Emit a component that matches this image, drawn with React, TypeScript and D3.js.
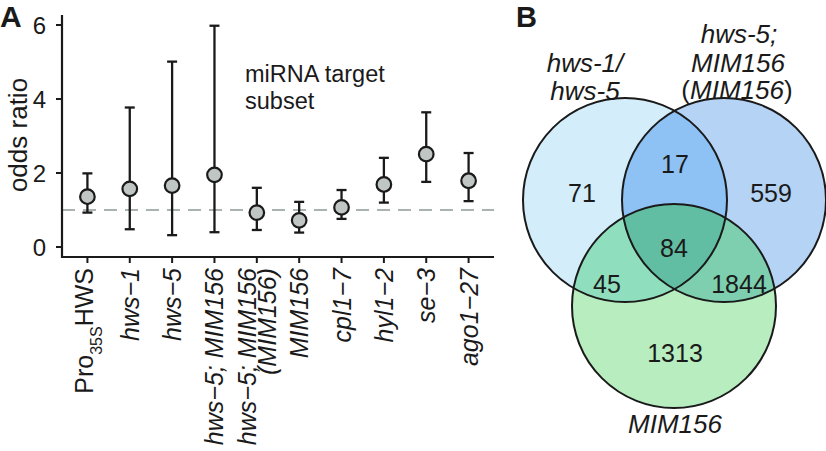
import React from "react";
import * as d3 from "d3";

// ---------- Panel A data ----------
const categories = [
  "Pro35SHWS",
  "hws−1",
  "hws−5",
  "hws−5; MIM156",
  "hws−5; MIM156\n(MIM156)",
  "MIM156",
  "cpl1−7",
  "hyl1−2",
  "se−3",
  "ago1−27",
];
const oddsRatio = [1.36, 1.57, 1.66, 1.95, 0.93, 0.72, 1.07, 1.69, 2.51, 1.79];
const ciLower = [0.93, 0.48, 0.32, 0.4, 0.46, 0.39, 0.76, 1.2, 1.76, 1.24];
const ciUpper = [1.99, 3.77, 5.01, 5.98, 1.6, 1.22, 1.54, 2.41, 3.64, 2.54];
const yTicks = [0, 2, 4, 6];
const referenceLine = 1;

// ---------- Panel B data ----------
const vennSetNames = ["hws-1/hws-5", "hws-5; MIM156 (MIM156)", "MIM156"];
const regionKeys = ["A", "AB", "B", "ABC", "AC", "BC", "C"];
const regionCounts = [71, 17, 559, 84, 45, 1844, 1313];

const FONT = "'Liberation Sans', Arial, Helvetica, sans-serif";

// layout
const W = 826;
const H = 451;
const plotLeft = 62;
const plotRight = 494;
const plotTop = 15;
const plotBottom = 257;

const circleLayout = [
  { cx: 625, cy: 200, r: 102, fill: "#d3edfb" },
  { cx: 724, cy: 200, r: 102, fill: "#b5d3f4" },
  { cx: 674, cy: 306, r: 102, fill: "#b7edbf" },
];
const regionFill: Record<string, string> = {
  AB: "#8ec1f4",
  AC: "#8fdfbf",
  BC: "#7dcfb0",
  ABC: "#62bea2",
};
const regionLabelPos: Record<string, [number, number]> = {
  A: [582, 202],
  AB: [675, 173],
  B: [771, 202],
  ABC: [674, 257],
  AC: [607, 293],
  BC: [739, 293],
  C: [675, 362],
};

function XLabel({ text, x, y }: { text: string; x: number; y: number }) {
  const fs = 25;
  if (text.startsWith("Pro35S")) {
    return (
      <text
        transform={`translate(${x + 6},${y}) rotate(-90)`}
        textAnchor="end"
        fontSize={fs}
        fontFamily={FONT}
        fill="#1a1a1a"
      >
        Pro
        <tspan fontSize={16} dy={9}>
          35S
        </tspan>
        <tspan dy={-9}>HWS</tspan>
      </text>
    );
  }
  const lines = text.split("\n");
  const spacing = 20;
  const n = lines.length;
  return (
    <g>
      {lines.map((ln, i) => {
        const off = 9 + (i - (n - 1) / 2) * spacing;
        return (
          <text
            key={i}
            transform={`translate(${x + off},${y}) rotate(-90)`}
            textAnchor="end"
            fontSize={fs}
            fontStyle="italic"
            fontFamily={FONT}
            fill="#1a1a1a"
          >
            {ln}
          </text>
        );
      })}
    </g>
  );
}

export default function App() {
  const x = d3
    .scalePoint<string>()
    .domain(categories)
    .range([plotLeft, plotRight])
    .padding(0.6);
  const y = d3.scaleLinear().domain([-0.27, 6.27]).range([plotBottom, plotTop]);

  const points = categories.map((c, i) => ({
    c,
    x: x(c) as number,
    y: y(oddsRatio[i]),
    lo: y(ciLower[i]),
    hi: y(ciUpper[i]),
  }));

  const circlePath = (k: number) => {
    const c = circleLayout[k];
    const p = d3.path();
    p.moveTo(c.cx + c.r, c.cy);
    p.arc(c.cx, c.cy, c.r, 0, Math.PI * 2);
    p.closePath();
    return p.toString();
  };

  return (
    <svg width={W} height={H} style={{ display: "block", position: "absolute", left: 0, top: 0 }}>
      <rect width={W} height={H} fill="#ffffff" />
      {/* Panel A */}
      <text x={0} y={27} fontSize={30} fontWeight="bold" fontFamily={FONT} fill="#1a1a1a">
        A
      </text>
      <line
        x1={plotLeft}
        x2={plotRight}
        y1={y(referenceLine)}
        y2={y(referenceLine)}
        stroke="#a9b3b2"
        strokeWidth={2}
        strokeDasharray="13 8"
      />
      {points.map((p, i) => (
        <g key={i}>
          <line x1={p.x} x2={p.x} y1={p.lo} y2={p.hi} stroke="#1a1a1a" strokeWidth={2.3} />
          <line x1={p.x - 5} x2={p.x + 5} y1={p.lo} y2={p.lo} stroke="#1a1a1a" strokeWidth={2.3} />
          <line x1={p.x - 5} x2={p.x + 5} y1={p.hi} y2={p.hi} stroke="#1a1a1a" strokeWidth={2.3} />
          <circle cx={p.x} cy={p.y} r={7.3} fill="#bfc6c3" stroke="#1a1a1a" strokeWidth={2.2} />
        </g>
      ))}
      {/* axes */}
      <line x1={plotLeft} x2={plotLeft} y1={plotTop} y2={plotBottom + 1} stroke="#1a1a1a" strokeWidth={2.2} />
      <line x1={plotLeft - 1} x2={plotRight} y1={plotBottom} y2={plotBottom} stroke="#1a1a1a" strokeWidth={2.2} />
      {yTicks.map((t) => (
        <g key={t}>
          <line x1={plotLeft - 6} x2={plotLeft} y1={y(t)} y2={y(t)} stroke="#1a1a1a" strokeWidth={2} />
          <text
            x={plotLeft - 16}
            y={y(t)}
            dy="0.36em"
            textAnchor="end"
            fontSize={24}
            fontFamily={FONT}
            fill="#1a1a1a"
          >
            {t}
          </text>
        </g>
      ))}
      {points.map((p, i) => (
        <g key={i}>
          <line x1={p.x} x2={p.x} y1={plotBottom} y2={plotBottom + 6} stroke="#1a1a1a" strokeWidth={2} />
          <XLabel text={p.c} x={p.x} y={268} />
        </g>
      ))}
      <text
        transform={`translate(27,135) rotate(-90)`}
        textAnchor="middle"
        fontSize={26}
        fontFamily={FONT}
        fill="#1a1a1a"
      >
        odds ratio
      </text>
      <text fontSize={23.5} fontFamily={FONT} fill="#1a1a1a">
        <tspan x={245} y={82}>
          miRNA target
        </tspan>
        <tspan x={245} y={109}>
          subset
        </tspan>
      </text>

      {/* Panel B */}
      <text x={516} y={27} fontSize={29} fontWeight="bold" fontFamily={FONT} fill="#1a1a1a">
        B
      </text>
      <defs>
        <clipPath id="clipA">
          <path d={circlePath(0)} />
        </clipPath>
        <clipPath id="clipB">
          <path d={circlePath(1)} />
        </clipPath>
      </defs>
      <path d={circlePath(0)} fill={circleLayout[0].fill} />
      <path d={circlePath(1)} fill={circleLayout[1].fill} />
      <path d={circlePath(1)} fill={regionFill.AB} clipPath="url(#clipA)" />
      <path d={circlePath(2)} fill={circleLayout[2].fill} />
      <path d={circlePath(2)} fill={regionFill.AC} clipPath="url(#clipA)" />
      <path d={circlePath(2)} fill={regionFill.BC} clipPath="url(#clipB)" />
      <g clipPath="url(#clipA)">
        <path d={circlePath(2)} fill={regionFill.ABC} clipPath="url(#clipB)" />
      </g>
      {[0, 1, 2].map((k) => (
        <path key={k} d={circlePath(k)} fill="none" stroke="#1a1a1a" strokeWidth={2} />
      ))}
      {regionKeys.map((k, i) => (
        <text
          key={k}
          x={regionLabelPos[k][0]}
          y={regionLabelPos[k][1]}
          textAnchor="middle"
          fontSize={25}
          fontFamily={FONT}
          fill="#1a1a1a"
        >
          {regionCounts[i]}
        </text>
      ))}
      {/* set labels */}
      <text textAnchor="middle" fontSize={26} fontStyle="italic" fontFamily={FONT} fill="#1a1a1a">
        <tspan x={585} y={72}>
          {vennSetNames[0].split("/")[0] + "/"}
        </tspan>
        <tspan x={585} y={100}>
          {vennSetNames[0].split("/")[1]}
        </tspan>
      </text>
      <text textAnchor="middle" fontSize={26} fontFamily={FONT} fill="#1a1a1a">
        <tspan x={739} y={43} fontStyle="italic">
          {vennSetNames[1].split(" ")[0]}
        </tspan>
        <tspan x={738} y={72} fontStyle="italic">
          {vennSetNames[1].split(" ")[1]}
        </tspan>
        <tspan x={737} y={99}>
          (<tspan fontStyle="italic">{vennSetNames[1].split(" ")[2].replace(/[()]/g, "")}</tspan>)
        </tspan>
      </text>
      <text x={675} y={433} textAnchor="middle" fontSize={26} fontStyle="italic" fontFamily={FONT} fill="#1a1a1a">
        {vennSetNames[2]}
      </text>
    </svg>
  );
}
